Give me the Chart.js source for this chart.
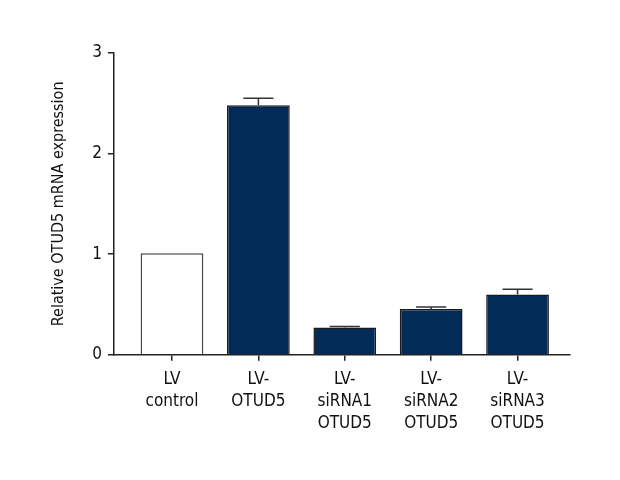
<!DOCTYPE html>
<html>
<head>
<meta charset="utf-8">
<script src="https://cdn.jsdelivr.net/npm/chart.js@4"></script>
<style>
  html, body { margin: 0; padding: 0; background: #fff; }
  #wrap { width: 620px; height: 480px; position: relative; }
</style>
</head>
<body>
<div id="wrap"><canvas id="c" width="620" height="480"></canvas></div>
<script>
const categories = [
  ['LV', 'control'],
  ['LV-', 'OTUD5'],
  ['LV-', 'siRNA1', 'OTUD5'],
  ['LV-', 'siRNA2', 'OTUD5'],
  ['LV-', 'siRNA3', 'OTUD5']
];
const values = [1.01, 2.48, 0.27, 0.455, 0.60];
const errors = [0, 0.07, 0.01, 0.02, 0.05];
const yTicks = [0, 1, 2, 3];
const yTitle = 'Relative OTUD5 mRNA expression';

const FONT = "'Liberation Sans Narrow', 'DejaVu Sans Condensed', 'Open Sans', sans-serif";
const AXIS = '#222222';
const NAVY = '#022b57';

const errorBars = {
  id: 'errorBars',
  afterDatasetsDraw(chart) {
    const meta = chart.getDatasetMeta(0);
    const ys = chart.scales.y;
    const ctx = chart.ctx;
    ctx.save();
    ctx.strokeStyle = '#333333';
    ctx.lineWidth = 1.5;
    meta.data.forEach((bar, i) => {
      if (!errors[i]) return;
      const x = bar.x;
      const yb = ys.getPixelForValue(values[i]);
      const yt = ys.getPixelForValue(values[i] + errors[i]);
      const half = bar.width * 0.24;
      ctx.beginPath();
      ctx.moveTo(x, yb);
      ctx.lineTo(x, yt);
      ctx.moveTo(x - half, yt);
      ctx.lineTo(x + half, yt);
      ctx.stroke();
    });
    ctx.restore();
  }
};

new Chart(document.getElementById('c'), {
  type: 'bar',
  data: {
    datasets: [{
      data: values.map((v, i) => ({ x: i, y: v })),
      backgroundColor: values.map((v, i) => i === 0 ? '#ffffff' : NAVY),
      borderColor: values.map((v, i) => i === 0 ? '#444444' : '#1a1a1a'),
      borderWidth: 1.5,
      borderSkipped: 'bottom',
      categoryPercentage: 1,
      barPercentage: 0.726
    }]
  },
  options: {
    responsive: false,
    devicePixelRatio: 1,
    animation: false,
    layout: { padding: { left: 49, right: 50, top: 53, bottom: 38 } },
    plugins: { legend: { display: false }, tooltip: { enabled: false } },
    scales: {
      x: {
        type: 'linear',
        offset: false,
        min: -0.672,
        max: 4.607,
        grid: { display: true, offset: false, drawOnChartArea: false, drawTicks: true, tickLength: 6, color: AXIS, lineWidth: 1.5 },
        border: { display: true, color: AXIS, width: 1.5 },
        ticks: {
          stepSize: 1,
          includeBounds: false,
          autoSkip: false,
          maxRotation: 0,
          color: '#111',
          padding: 8,
          font: { family: FONT, size: 17, lineHeight: 1.28 },
          callback: (v) => (Number.isInteger(v) && categories[v]) ? categories[v] : ''
        }
      },
      y: {
        min: 0,
        max: 3,
        grid: { display: true, drawOnChartArea: false, drawTicks: true, tickLength: 6, color: AXIS, lineWidth: 1.5 },
        border: { display: true, color: AXIS, width: 1.5 },
        afterBuildTicks: (s) => { s.ticks = yTicks.map(v => ({ value: v })); },
        ticks: {
          color: '#111',
          padding: 6,
          font: { family: FONT, size: 17 }
        },
        title: {
          display: true,
          text: yTitle,
          color: '#111',
          padding: { top: 0, bottom: 18 },
          font: { family: FONT, size: 16 }
        }
      }
    }
  },
  plugins: [errorBars]
});
</script>
</body>
</html>
